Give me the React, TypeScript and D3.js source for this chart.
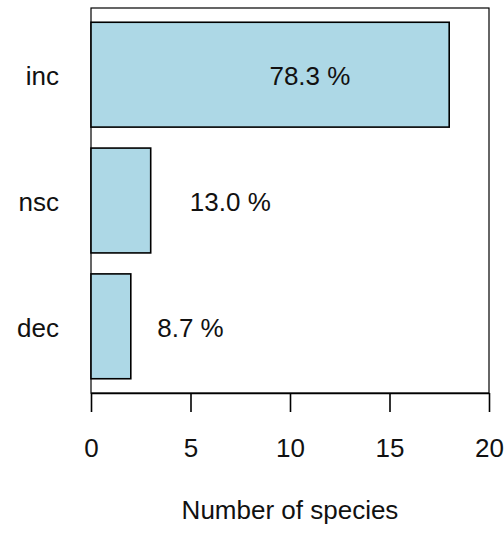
import * as d3 from "d3";
import { useEffect, useRef } from "react";

// data, bottom to top like R's barplot
const categories = ["dec", "nsc", "inc"];
const counts = [2, 3, 18];
const percentLabels = ["8.7 %", "13.0 %", "78.3 %"];
// x (in species) where each percent label was centred
const labelAt = [5, 7, 11];
const xTicks = [0, 5, 10, 15, 20];

const App = () => {
  const ref = useRef<SVGSVGElement>(null);

  useEffect(() => {
    const svg = d3.select(ref.current);
    svg.selectAll("*").remove();

    const left = 91,
      right = 489,
      top = 8,
      bottom = 393;
    const font = "'Liberation Sans', Arial, sans-serif";

    const x = d3.scaleLinear().domain([0, 20]).range([left, right]);
    // R barplot: width 1, space 0.2, range extended by 4%
    const y = d3.scaleLinear().domain([0.064, 3.736]).range([bottom, top]);

    // plot box
    svg
      .append("rect")
      .attr("x", left)
      .attr("y", top)
      .attr("width", right - left)
      .attr("height", bottom - top)
      .attr("fill", "none")
      .attr("stroke", "#000")
      .attr("stroke-width", 1.2);

    const bars = categories.map((c, i) => ({
      cat: c,
      n: counts[i],
      lab: percentLabels[i],
      at: labelAt[i],
      y0: 0.2 + 1.2 * i,
      y1: 1.2 + 1.2 * i,
    }));

    svg
      .selectAll(".bar")
      .data(bars)
      .enter()
      .append("rect")
      .attr("class", "bar")
      .attr("x", x(0))
      .attr("y", (d) => y(d.y1))
      .attr("width", (d) => x(d.n) - x(0))
      .attr("height", (d) => y(d.y0) - y(d.y1))
      .attr("fill", "#ADD8E6")
      .attr("stroke", "#000")
      .attr("stroke-width", 1.6);

    // category names
    svg
      .selectAll(".cat")
      .data(bars)
      .enter()
      .append("text")
      .attr("class", "cat")
      .attr("x", left - 32)
      .attr("y", (d) => y((d.y0 + d.y1) / 2))
      .attr("dy", "0.4em")
      .attr("text-anchor", "end")
      .style("font-family", font)
      .style("font-size", "26px")
      .attr("fill", "#111")
      .text((d) => d.cat);

    // percent labels
    svg
      .selectAll(".pct")
      .data(bars)
      .enter()
      .append("text")
      .attr("class", "pct")
      .attr("x", (d) => x(d.at))
      .attr("y", (d) => y((d.y0 + d.y1) / 2))
      .attr("dy", "0.4em")
      .attr("text-anchor", "middle")
      .style("font-family", font)
      .style("font-size", "26px")
      .attr("fill", "#111")
      .text((d) => d.lab);

    // x axis
    const axis = svg
      .append("g")
      .attr("transform", `translate(0,${bottom})`)
      .call(
        d3
          .axisBottom(x)
          .tickValues(xTicks)
          .tickSize(19)
          .tickSizeOuter(0)
          .tickPadding(27)
      );
    axis.select(".domain").attr("stroke-width", 1.6);
    axis.selectAll(".tick line").attr("stroke-width", 1.6);
    axis
      .selectAll("text")
      .style("font-family", font)
      .style("font-size", "26px")
      .attr("fill", "#111");

    svg
      .append("text")
      .attr("x", (left + right) / 2)
      .attr("y", 519)
      .attr("text-anchor", "middle")
      .style("font-family", font)
      .style("font-size", "26px")
      .attr("fill", "#111")
      .text("Number of species");
  }, []);

  return (
    <svg
      ref={ref}
      width={504}
      height={536}
      style={{ position: "absolute", left: 0, top: 0, background: "#fff" }}
    />
  );
};

export default App;
